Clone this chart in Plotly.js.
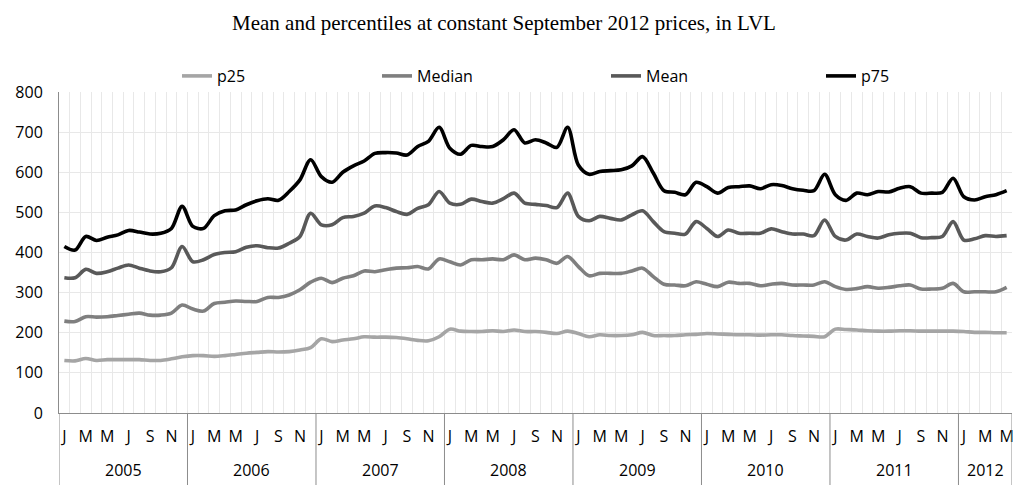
<!DOCTYPE html>
<html><head><meta charset="utf-8">
<script src="https://cdn.plot.ly/plotly-3.0.1.min.js"></script>
<style>html,body{margin:0;padding:0;background:#fff}#chart{width:1014px;height:485px}</style>
</head><body><div id="chart"></div>
<script>
const years = [2005, 2006, 2007, 2008, 2009, 2010, 2011, 2012];
const monthLetters = ["J","F","M","A","M","J","J","A","S","O","N","D"];
const seriesNames = ["p25", "Median", "Mean", "p75"];

const p25 = [
  131,130,136,131,133,133,133,133,131,131,135,140,
  143,143,141,143,146,149,151,153,152,153,157,163,
  185,178,182,185,190,189,189,188,185,181,180,190,
  209,204,203,203,205,203,207,203,203,201,198,204,
  198,190,195,193,193,195,201,193,193,193,195,196,
  198,197,196,195,195,194,195,195,193,192,191,190,
  209,208,207,205,204,204,205,205,204,204,204,204,
  203,201,201,200,200
];
const median = [
  229,228,240,239,240,243,246,249,244,244,249,269,
  259,254,273,276,279,278,278,288,288,294,307,326,
  336,325,336,342,354,352,357,361,362,365,359,384,
  377,369,382,382,384,382,394,382,386,382,373,390,
  365,342,348,348,348,354,361,340,321,319,317,327,
  321,315,326,323,323,317,321,323,319,319,319,327,
  315,308,310,315,311,313,317,319,309,309,311,323,
  302,302,302,302,313
];
const mean = [
  337,337,358,348,352,361,369,361,354,352,362,415,
  377,382,395,400,402,413,417,412,411,423,440,498,
  469,469,487,490,498,516,512,502,495,510,519,552,
  523,520,533,527,523,534,548,523,520,517,512,548,
  490,479,490,485,481,494,504,477,452,448,446,477,
  460,440,456,448,448,448,459,452,446,446,442,481,
  440,431,446,440,436,444,448,448,437,437,440,477,
  431,434,442,440,442
];
const p75 = [
  415,406,440,430,438,444,455,451,446,448,460,515,
  465,460,492,504,506,519,529,534,530,552,581,631,
  589,575,600,616,628,647,649,648,643,664,677,712,
  660,645,667,664,664,681,706,673,681,673,662,712,
  618,595,602,604,606,616,639,598,554,550,544,575,
  564,548,562,564,566,559,569,567,559,555,554,595,
  544,530,548,544,552,551,560,564,548,548,550,585,
  539,531,539,544,554
];
const yTicks = [0,100,200,300,400,500,600,700,800];

const n = p25.length;
const xs = p25.map((_, i) => i);
const colors = ["#a5a5a5", "#7f7f7f", "#595959", "#000000"];
const allSeries = [p25, median, mean, p75];
const legendIds = ["legend", "legend2", "legend3", "legend4"];
const legendLeftPx = [177, 377, 606, 821];   // pixel positions of each legend entry

const plotL = 59, plotW = 1014 - 59 - 2, plotT = 92, plotH = 485 - 92 - 72;
const font16 = {family: "Open Sans, sans-serif", size: 16, color: "#000"};

const traces = allSeries.map((s, k) => ({
  x: xs, y: s, name: seriesNames[k], type: "scatter", mode: "lines",
  legend: legendIds[k],
  line: {color: colors[k], width: 3.6, shape: "spline", smoothing: 0.9},
  hoverinfo: "skip"
}));

// tick labels: every other month
const tickvals = [], ticktext = [];
for (let i = 0; i < n; i++) { if ((i % 12) % 2 === 0) { tickvals.push(i); ticktext.push(monthLetters[i % 12]); } }

// year boundaries & labels
const shapes = [], annotations = [];
const bottomY = -72 / plotH;
years.forEach((yr, k) => {
  const start = k * 12 - 0.5;
  const end = Math.min((k + 1) * 12, n) - 0.5;
  shapes.push({type: "line", xref: "x", yref: "paper", x0: start, x1: start, y0: 0, y1: bottomY,
    line: {color: "#8c8c8c", width: 1}});
  annotations.push({xref: "x", yref: "paper", x: (start + end) / 2, y: -57 / plotH, yanchor: "middle",
    text: String(yr), showarrow: false, font: font16});
});
shapes.push({type: "line", xref: "x", yref: "paper", x0: n - 0.5, x1: n - 0.5, y0: 0, y1: bottomY,
  line: {color: "#8c8c8c", width: 1}});

const layout = {
  width: 1014, height: 485,
  margin: {l: plotL, r: 2, t: plotT, b: 72},
  paper_bgcolor: "#fff", plot_bgcolor: "#fff",
  title: {text: "Mean and percentiles at constant September 2012 prices, in LVL",
    font: {family: "Liberation Serif, Times New Roman, serif", size: 21, color: "#000"},
    x: 504 / 1014, xanchor: "center", xref: "container", y: 1 - 23 / 485, yanchor: "middle"},
  showlegend: true,
  xaxis: {
    range: [-0.5, n - 0.5], tickmode: "array", tickvals: tickvals, ticktext: ticktext,
    showgrid: false, zeroline: false, showline: true, linecolor: "#8c8c8c", linewidth: 1,
    ticks: "", tickfont: font16, ticklabelstandoff: 9,
    minor: {tickmode: "linear", tick0: 0.5, dtick: 1, showgrid: true, gridcolor: "#e8e8e8", gridwidth: 1, ticks: ""},
    fixedrange: true
  },
  yaxis: {
    range: [0, 800], tickmode: "array", tickvals: yTicks, ticktext: yTicks.map(String),
    showgrid: true, gridcolor: "#e8e8e8", gridwidth: 1, zeroline: false,
    showline: true, linecolor: "#8c8c8c", linewidth: 1, ticks: "",
    tickfont: font16, ticklabelstandoff: 12,
    fixedrange: true
  },
  shapes: shapes, annotations: annotations
};
legendIds.forEach((id, k) => {
  layout[id] = {orientation: "h", x: (legendLeftPx[k] - plotL) / plotW, xanchor: "left",
    y: 1 + 16 / plotH, yanchor: "middle", font: font16, bgcolor: "rgba(0,0,0,0)", borderwidth: 0};
});

Plotly.newPlot("chart", traces, layout, {displayModeBar: false, staticPlot: true});
</script></body></html>
